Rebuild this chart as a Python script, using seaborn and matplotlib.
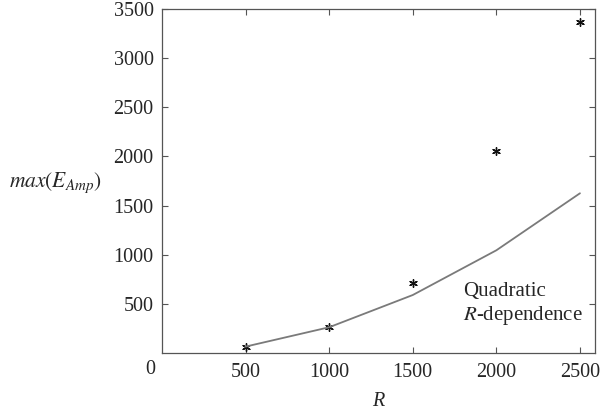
import numpy as np
import pandas as pd
import seaborn as sns
import matplotlib.pyplot as plt

# values
R_values = [500, 1000, 1500, 2000, 2500]
max_E_amp = [58, 264, 715, 2053, 3372]        # simulated maxima (asterisks)
quad_fit = [65, 262, 590, 1045, 1625]         # quadratic R-dependence (grey line)
y_ticks = [500, 1000, 1500, 2000, 2500, 3000, 3500]
x_ticks = [500, 1000, 1500, 2000, 2500]

df = pd.DataFrame({'R': R_values, 'Emax': max_E_amp, 'fit': quad_fit})

sns.set_style('ticks')
plt.rcParams['font.family'] = ['Liberation Serif', 'DejaVu Serif']
plt.rcParams['mathtext.fontset'] = 'stix'

fig = plt.figure(figsize=(6.03, 4.13), dpi=100)
ax = fig.add_axes([162/603, 1-353/413, 433/603, 344/413])

sns.lineplot(data=df, x='R', y='fit', color='#7a7a7a', linewidth=1.3, ax=ax)
sns.scatterplot(data=df, x='R', y='Emax', marker=(6, 2, 0), s=30, color='#111111',
                linewidth=1.0, edgecolor='#111111', ax=ax)

ax.set_xlim(0, 2590)
ax.set_ylim(0, 3500)
ax.set_xticks(x_ticks)
ax.set_yticks(y_ticks)
ax.tick_params(direction='in', length=4, width=0.8, color='#555555',
               labelsize=14.5, top=True, right=True)
ax.tick_params(axis='x', pad=7)
ax.tick_params(axis='y', pad=6)
for s in ax.spines.values():
    s.set_color('#555555')
    s.set_linewidth(0.9)

ax.set_xlabel('R', fontsize=14.5, style='italic', va='center')
ax.xaxis.set_label_coords(0.5, -0.14)
ax.set_ylabel(r'$\mathit{max}(E_{\mathit{Amp}})$', fontsize=15.5, rotation=0,
              ha='center', va='center')
ax.yaxis.set_label_coords(-0.245, 0.495)

# shared origin label
fig.text(150/603, 1-369/413, '0', fontsize=14.5, ha='center', va='center')

ax.text(1800, 625, 'Quadratic', fontsize=15, ha='left', va='center')
ax.text(1800, 380, r'$R$-dependence', fontsize=15, ha='left', va='center')

fig.savefig('out.png', dpi=100)
